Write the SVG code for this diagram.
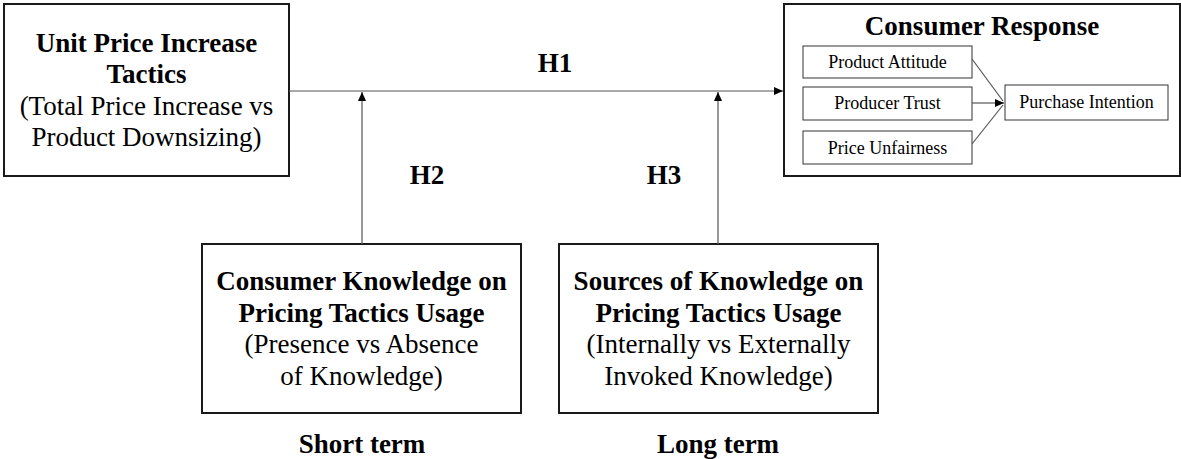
<svg xmlns="http://www.w3.org/2000/svg" width="1181" height="459" viewBox="0 0 1181 459">
  <style>
    .box { fill: #ffffff; stroke: #1a1a1a; stroke-width: 2; }
    .sub { fill: #ffffff; stroke: #333333; stroke-width: 1; }
    .link { fill: none; stroke: #555555; stroke-width: 1.2; }
    text { font-family: "Liberation Serif", "Times New Roman", serif; fill: #000000; text-anchor: middle; }
    .b { font-weight: bold; font-size: 27px; }
    .r { font-size: 27px; }
    .s { font-size: 18px; }
  </style>
  <defs>
    <marker id="arrow" markerUnits="userSpaceOnUse" markerWidth="10" markerHeight="8" refX="9" refY="4" orient="auto">
      <path d="M0,0 L9,4 L0,8 Z" fill="#000000"/>
    </marker>
  </defs>

  <g id="node-tactics">
    <rect class="box" x="4" y="4" width="285" height="172"/>
    <text class="b" x="146.5" y="52">Unit Price Increase</text>
    <text class="b" x="146.5" y="83">Tactics</text>
    <text class="r" x="146.5" y="115">(Total Price Increase vs</text>
    <text class="r" x="146.5" y="146">Product Downsizing)</text>
  </g>

  <g id="node-response">
    <rect class="box" x="784" y="4" width="396" height="172"/>
    <text class="b" x="982" y="35">Consumer Response</text>
    <g id="node-attitude">
      <rect class="sub" x="803" y="46" width="169" height="32"/>
      <text class="s" x="887.5" y="68">Product Attitude</text>
    </g>
    <g id="node-trust">
      <rect class="sub" x="803" y="87" width="169" height="33"/>
      <text class="s" x="887.5" y="109">Producer Trust</text>
    </g>
    <g id="node-unfairness">
      <rect class="sub" x="803" y="131" width="169" height="33"/>
      <text class="s" x="887.5" y="154">Price Unfairness</text>
    </g>
    <g id="node-intention">
      <rect class="sub" x="1005" y="85" width="163" height="35"/>
      <text class="s" x="1086.5" y="108">Purchase Intention</text>
    </g>
  </g>

  <g id="node-knowledge">
    <rect class="box" x="202" y="244" width="319" height="169"/>
    <text class="b" x="361.5" y="290">Consumer Knowledge on</text>
    <text class="b" x="361.5" y="322">Pricing Tactics Usage</text>
    <text class="r" x="361.5" y="353">(Presence vs Absence</text>
    <text class="r" x="361.5" y="385">of Knowledge)</text>
  </g>

  <g id="node-sources">
    <rect class="box" x="559" y="244" width="319" height="169"/>
    <text class="b" x="718.5" y="290">Sources of Knowledge on</text>
    <text class="b" x="718.5" y="322">Pricing Tactics Usage</text>
    <text class="r" x="718.5" y="353">(Internally vs Externally</text>
    <text class="r" x="718.5" y="385">Invoked Knowledge)</text>
  </g>

  <!-- hypothesis and horizon labels -->
  <g id="labels">
    <text class="b" x="555" y="72">H1</text>
    <text class="b" x="427" y="184">H2</text>
    <text class="b" x="664" y="184">H3</text>
    <text class="b" x="362" y="453">Short term</text>
    <text class="b" x="718" y="453">Long term</text>
  </g>

  <!-- connectors, drawn last so they sit on top of the box fills -->
  <g id="connectors">
    <line class="link" x1="289" y1="91" x2="783" y2="91" marker-end="url(#arrow)"/>
    <line class="link" x1="362" y1="244" x2="362" y2="92" marker-end="url(#arrow)"/>
    <line class="link" x1="718" y1="244" x2="718" y2="92" marker-end="url(#arrow)"/>
    <line class="link" x1="972" y1="59" x2="1003" y2="101"/>
    <line class="link" x1="972" y1="103" x2="1004" y2="103" marker-end="url(#arrow)"/>
    <line class="link" x1="972" y1="144" x2="1003" y2="105"/>
  </g>
</svg>
